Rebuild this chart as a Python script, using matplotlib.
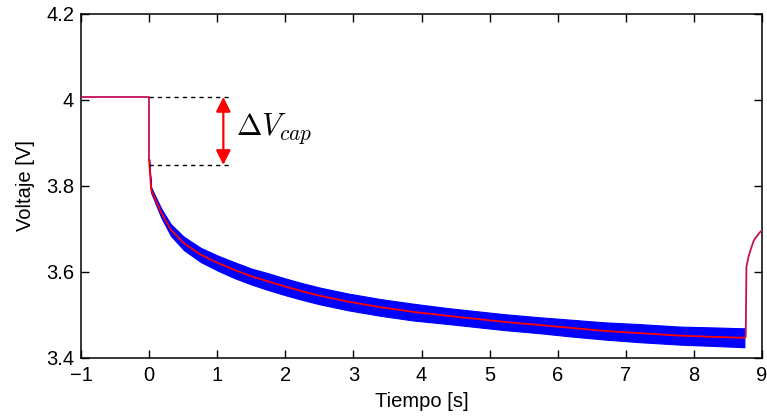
import matplotlib
matplotlib.use("Agg")
import matplotlib.pyplot as plt
import numpy as np

plt.rcParams['font.family'] = ['Liberation Sans', 'DejaVu Sans']
plt.rcParams['mathtext.fontset'] = 'cm'

# Filtered voltage (red) during the pulse
t_filt = [0.0, 0.03, 0.18, 0.32, 0.51, 0.76, 1.01, 1.25, 1.5, 1.75, 2.0, 2.25, 2.5,
          2.92, 3.4, 3.89, 4.39, 4.8, 5.21, 5.71, 6.2, 6.68, 7.18, 7.8, 8.3, 8.74]
v_filt = [3.860, 3.791, 3.737, 3.698, 3.667, 3.640, 3.621, 3.605, 3.590, 3.578, 3.566, 3.555, 3.545,
          3.531, 3.518, 3.507, 3.498, 3.491, 3.484, 3.477, 3.470, 3.463, 3.458, 3.452, 3.449, 3.447]
# Raw signal envelope (blue band) offsets relative to filtered curve
band_up = [0.003, 0.006, 0.010, 0.013, 0.015, 0.016, 0.017, 0.018, 0.018, 0.019, 0.019, 0.019, 0.019,
           0.019, 0.019, 0.019, 0.018, 0.018, 0.018, 0.018, 0.019, 0.020, 0.021, 0.021, 0.022, 0.022]
band_dn = [0.003, 0.007, 0.011, 0.014, 0.016, 0.017, 0.018, 0.019, 0.019, 0.020, 0.020, 0.020, 0.020,
           0.020, 0.020, 0.020, 0.019, 0.019, 0.019, 0.019, 0.020, 0.020, 0.021, 0.021, 0.021, 0.022]

# Rest segments (before pulse and recovery after pulse)
t_rest = [-1.0, 0.0, 0.0]
v_rest = [4.007, 4.007, 3.860]
t_recov = [8.74, 8.76, 8.77, 8.80, 8.83, 8.88, 8.96, 9.02]
v_recov = [3.447, 3.450, 3.612, 3.635, 3.651, 3.674, 3.691, 3.700]

v_top, v_bot = 4.007, 3.849
label = r'$\Delta V_{cap}$'

fig = plt.figure(figsize=(7.67, 4.17), dpi=100)
ax = fig.add_axes([0.1056, 0.1415, 0.888, 0.825])

t_f = np.array(t_filt); v_f = np.array(v_filt)
ax.fill_between(t_f, v_f + np.array(band_up), v_f - np.array(band_dn),
                color='#0000ff', lw=0.8, edgecolor='#0000ff', zorder=2)
mix = '#c4105a'
ax.plot(t_rest, v_rest, color=mix, lw=1.3, zorder=3)
ax.plot(t_recov, v_recov, color=mix, lw=1.3, zorder=3)
ax.plot(t_filt, v_filt, color='#ff0000', lw=1.3, zorder=4)

# annotation
ax.plot([0, 1.2], [v_top, v_top], color='black', ls=(0, (3, 3)), lw=1.0, zorder=5)
ax.plot([0, 1.2], [v_bot, v_bot], color='black', ls=(0, (3, 3)), lw=1.0, zorder=5)
ax.annotate('', xy=(1.09, v_top), xytext=(1.09, v_bot),
            arrowprops=dict(arrowstyle='<|-|>', color='#ff0000', lw=1.6,
                            mutation_scale=22, shrinkA=0, shrinkB=0), zorder=6)
ax.text(1.28, 3.934, label, fontsize=22, va='center', ha='left', color='black')

ax.set_xlim(-1, 9)
ax.set_ylim(3.4, 4.2)
ax.set_xticks(range(-1, 10))
ax.set_yticks([3.4, 3.6, 3.8, 4.0, 4.2])
ax.set_yticklabels(['3.4', '3.6', '3.8', '4', '4.2'])
ax.tick_params(direction='in', top=True, right=True, length=6, width=1,
               labelsize=14.5)
ax.tick_params(axis='x', pad=6)
ax.tick_params(axis='y', pad=5)
for s in ax.spines.values():
    s.set_linewidth(1.1)
ax.set_xlabel('Tiempo [s]', fontsize=14.5, labelpad=5)
ax.set_ylabel('Voltaje [V]', fontsize=14.5, labelpad=8)
for lab in ax.get_xticklabels():
    lab.set_clip_on(False)

fig.savefig('out.png', dpi=100)
